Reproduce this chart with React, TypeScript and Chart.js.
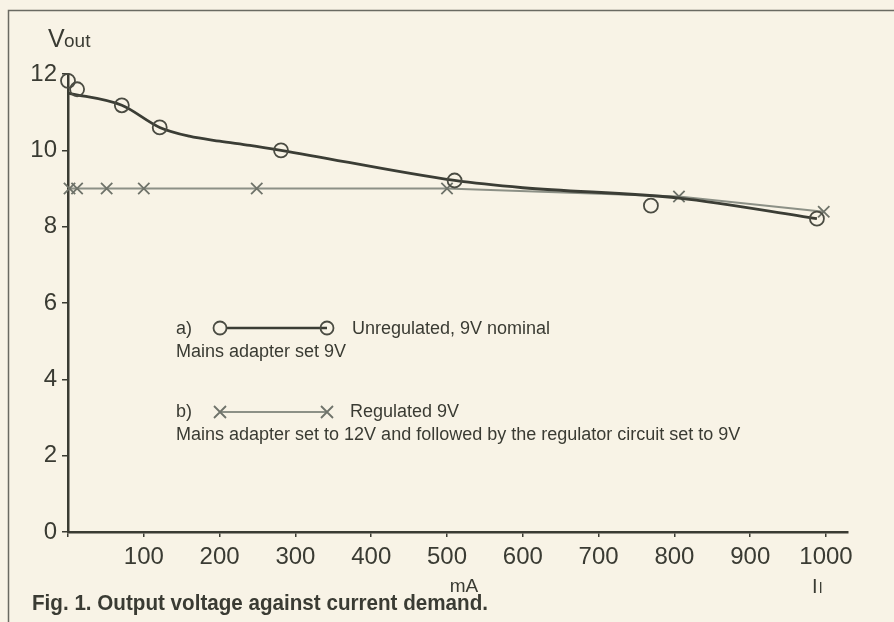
import React, { useEffect, useRef } from "react";
import { Chart, registerables } from "chart.js";

Chart.register(...registerables);

// Measured points, unregulated adapter (circles)
const unregCurrent = [0, 12, 71, 121, 281, 510, 769, 988];
const unregVolts = [11.82, 11.6, 11.18, 10.6, 10.0, 9.21, 8.55, 8.21];
// Hand-drawn smoothed curve through the unregulated measurements
const unregCurveCurrent = [0, 71, 121, 160, 200, 240, 281, 510, 600, 806, 988];
const unregCurveVolts = [11.5, 11.18, 10.6, 10.37, 10.24, 10.13, 10.0, 9.21, 9.02, 8.75, 8.21];
// Measured points, regulated supply (crosses)
const regCurrent = [2, 12, 51, 100, 249, 500, 806, 997];
const regVolts = [9.0, 9.0, 9.0, 9.0, 9.0, 9.0, 8.79, 8.39];

const xTicks = [0, 100, 200, 300, 400, 500, 600, 700, 800, 900, 1000];
const yTicks = [0, 2, 4, 6, 8, 10, 12];

const legendA = "Unregulated, 9V nominal";
const legendANote = "Mains adapter set 9V";
const legendB = "Regulated 9V";
const legendBNote = "Mains adapter set to 12V and followed by the regulator circuit set to 9V";
const caption = "Fig. 1. Output voltage against current demand.";

const BG = "#f8f3e6";
const INK = "#3a3b33";
const DARK = "#3b3d35";
const GREY = "#8c9086";
const FONT = "'Liberation Sans', Arial, Helvetica, sans-serif";

const zip = (xs: number[], ys: number[]) => xs.map((x, i) => ({ x, y: ys[i] }));

const annotations = {
  id: "annotations",
  afterDatasetsDraw(chart: any) {
    const ctx: CanvasRenderingContext2D = chart.ctx;
    ctx.save();
    ctx.fillStyle = INK;
    ctx.textBaseline = "alphabetic";
    // Y axis title V_out
    ctx.textAlign = "left";
    ctx.font = `25px ${FONT}`;
    ctx.fillText("V", 48, 47);
    ctx.font = `19px ${FONT}`;
    ctx.fillText("out", 64, 47);

    // X axis unit labels
    ctx.font = `19px ${FONT}`;
    ctx.textAlign = "center";
    ctx.fillText("mA", 464, 592);
    ctx.textAlign = "left";
    ctx.font = `20px ${FONT}`;
    ctx.fillText("I", 812, 593);
    ctx.font = `15px ${FONT}`;
    ctx.fillText("l", 819, 593);

    // Legend block
    ctx.font = `18px ${FONT}`;
    ctx.textBaseline = "middle";
    ctx.fillText("a)", 176, 329);
    ctx.fillText(legendA, 352, 329);
    ctx.fillText(legendANote, 176, 352);
    ctx.fillText("b)", 176, 412);
    ctx.fillText(legendB, 350, 412);
    ctx.fillText(legendBNote, 176, 435);

    // legend sample a
    ctx.strokeStyle = DARK;
    ctx.lineWidth = 2.6;
    ctx.beginPath();
    ctx.moveTo(226, 328);
    ctx.lineTo(327, 328);
    ctx.stroke();
    ctx.strokeStyle = "#4a4b42";
    ctx.lineWidth = 1.8;
    for (const cx of [220, 327]) {
      ctx.beginPath();
      ctx.arc(cx, 328, 6.5, 0, Math.PI * 2);
      ctx.stroke();
    }
    // legend sample b
    ctx.strokeStyle = GREY;
    ctx.lineWidth = 1.8;
    ctx.beginPath();
    ctx.moveTo(220, 412);
    ctx.lineTo(327, 412);
    ctx.stroke();
    ctx.strokeStyle = "#6f736a";
    for (const cx of [220, 327]) {
      const r = 6;
      ctx.beginPath();
      ctx.moveTo(cx - r, 412 - r);
      ctx.lineTo(cx + r, 412 + r);
      ctx.moveTo(cx - r, 412 + r);
      ctx.lineTo(cx + r, 412 - r);
      ctx.stroke();
    }

    // Caption (bold, condensed)
    ctx.textBaseline = "alphabetic";
    ctx.font = `bold 22px ${FONT}`;
    const w = ctx.measureText(caption).width;
    ctx.save();
    ctx.translate(32, 610);
    ctx.scale(456 / w, 1);
    ctx.fillText(caption, 0, 0);
    ctx.restore();

    // Frame
    ctx.strokeStyle = "#6a6a62";
    ctx.lineWidth = 1.5;
    ctx.beginPath();
    ctx.moveTo(8.5, 622);
    ctx.lineTo(8.5, 10.5);
    ctx.lineTo(894, 10.5);
    ctx.stroke();
    ctx.restore();
  },
};

export default function App() {
  const canvasRef = useRef<HTMLCanvasElement | null>(null);

  useEffect(() => {
    const canvas = canvasRef.current;
    if (!canvas) return;
    const chart = new Chart(canvas, {
      type: "line",
      data: {
        datasets: [
          {
            label: "Regulated 9V",
            data: zip(regCurrent, regVolts),
            borderColor: GREY,
            borderWidth: 2,
            tension: 0,
            pointStyle: "crossRot",
            pointRadius: 8,
            pointBorderWidth: 1.8,
            pointBorderColor: "#6f736a",
            pointBackgroundColor: "rgba(0,0,0,0)",
            clip: false,
            order: 3,
          },
          {
            label: "Unregulated curve",
            data: zip(unregCurveCurrent, unregCurveVolts),
            borderColor: DARK,
            borderWidth: 2.8,
            cubicInterpolationMode: "monotone",
            pointRadius: 0,
            clip: false,
            order: 2,
          },
          {
            label: "Unregulated, 9V nominal",
            data: zip(unregCurrent, unregVolts),
            showLine: false,
            pointStyle: "circle",
            pointRadius: 7,
            pointBorderWidth: 1.8,
            pointBorderColor: "#4a4b42",
            pointBackgroundColor: "rgba(0,0,0,0)",
            clip: false,
            order: 1,
          },
        ] as any,
      },
      options: {
        animation: false,
        responsive: false,
        devicePixelRatio: 1,
        layout: { padding: { top: 74, right: 46, left: 0, bottom: 0 } },
        plugins: { legend: { display: false }, tooltip: { enabled: false }, title: { display: false } },
        scales: {
          x: {
            type: "linear",
            min: 0,
            max: 1029,
            afterBuildTicks: (scale: any) => {
              scale.ticks = xTicks.map((v) => ({ value: v }));
            },
            afterFit: (scale: any) => {
              scale.height = 90;
            },
            ticks: {
              autoSkip: false,
              maxRotation: 0,
              padding: 6,
              color: INK,
              font: { family: FONT, size: 24 },
              callback: (v: any) => (v === 0 ? "" : String(v)),
            },
            grid: { drawOnChartArea: false, drawTicks: true, tickLength: 5, color: INK, lineWidth: 1.5 },
            border: { display: true, color: INK, width: 2.5 },
          },
          y: {
            type: "linear",
            min: 0,
            max: 12,
            afterBuildTicks: (scale: any) => {
              scale.ticks = yTicks.map((v) => ({ value: v }));
            },
            afterFit: (scale: any) => {
              scale.width = 68;
            },
            ticks: {
              padding: 5,
              color: INK,
              font: { family: FONT, size: 24 },
            },
            grid: { drawOnChartArea: false, drawTicks: true, tickLength: 6, color: INK, lineWidth: 1.5 },
            border: { display: true, color: INK, width: 2.5 },
          },
        },
      },
      plugins: [annotations],
    } as any);
    return () => chart.destroy();
  }, []);

  return (
    <div style={{ position: "fixed", left: 0, top: 0, width: 894, height: 622, background: BG }}>
      <canvas ref={canvasRef} width={894} height={622} style={{ display: "block" }} />
    </div>
  );
}
